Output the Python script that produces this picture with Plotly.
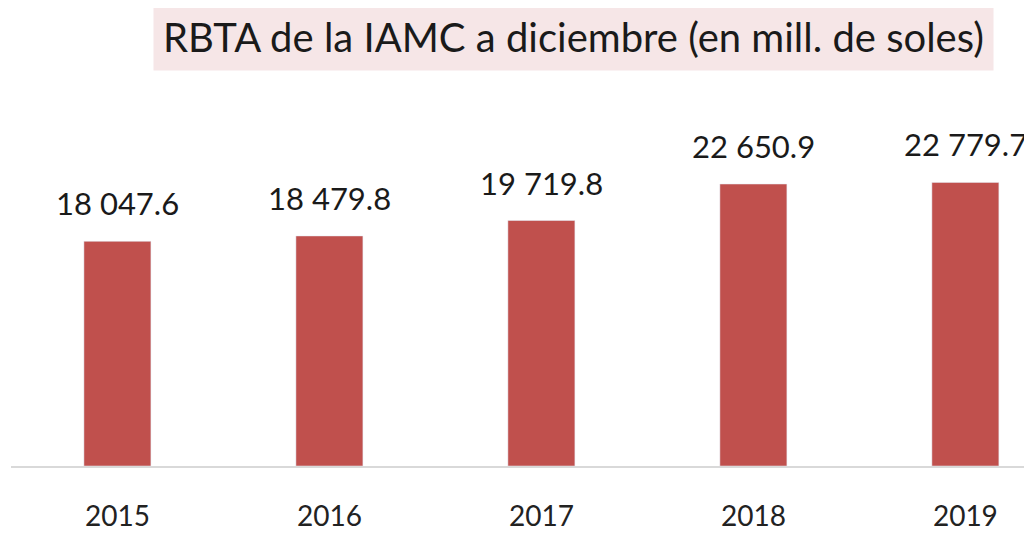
import plotly.graph_objects as go

# RBTA de la IAMC a diciembre, millones de soles
years = ["2015", "2016", "2017", "2018", "2019"]
rbta = [18047.6, 18479.8, 19719.8, 22650.9, 22779.7]

labels = [f"{v:,.1f}".replace(",", " ") for v in rbta]

FONT = "Lato, Open Sans, sans-serif"

fig = go.Figure(
    go.Bar(
        x=years,
        y=rbta,
        marker_color="#C0504D",
        width=0.316,
        hovertemplate="%{x}: %{y:,.1f}<extra></extra>",
    )
)

# value labels sit a little higher above the bars than plotly's outside text
# (category axis -> annotations take the category index)
for i, (v, lab) in enumerate(zip(rbta, labels)):
    fig.add_annotation(
        x=i, y=v, text=lab, showarrow=False,
        yanchor="bottom", yshift=17,
        font=dict(family=FONT, size=31, color="#1a1a1a"),
    )

fig.add_annotation(
    text="RBTA de la IAMC a diciembre (en mill. de soles)",
    xref="paper", yref="paper",
    x=0.547, y=1.0, yshift=63, yanchor="middle",
    showarrow=False,
    font=dict(family=FONT, size=40, color="#1a1a1a"),
    bgcolor="#F6E6E7",
    borderpad=9,
)

fig.update_xaxes(
    type="category",
    range=[-0.502, 4.352],
    automargin=False,
    showline=True, linecolor="#d9d9d9", linewidth=2,
    ticks="outside", ticklen=24, tickcolor="rgba(0,0,0,0)",
    tickfont=dict(family=FONT, size=28, color="#222"),
)
fig.update_yaxes(range=[0, 29400], visible=False, automargin=False)

fig.update_layout(
    width=1032, height=535,
    margin=dict(l=3, r=0, t=92, b=77),
    plot_bgcolor="white", paper_bgcolor="white",
    showlegend=False,
)

fig.write_html("out.html")
